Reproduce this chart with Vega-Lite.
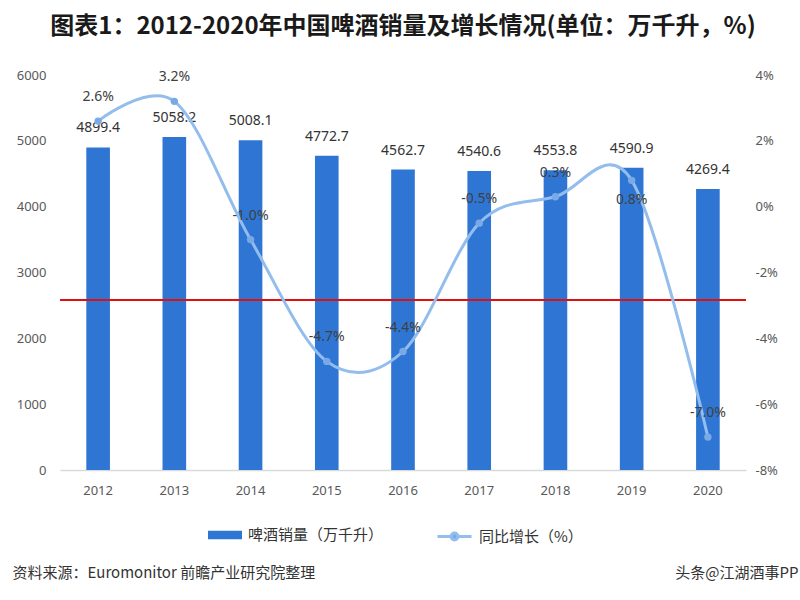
{
  "$schema": "https://vega.github.io/schema/vega-lite/v6.json",
  "autosize": {"type": "none"},
  "width": 686,
  "height": 395,
  "padding": {"left": 60, "top": 75, "right": 54, "bottom": 130},
  "background": "#ffffff",
  "title": {
    "text": "图表1：2012-2020年中国啤酒销量及增长情况(单位：万千升，%)",
    "font": "Noto Sans CJK SC",
    "fontSize": 24,
    "fontWeight": "bold",
    "color": "#1a1a1a",
    "offset": 30
  },
  "data": {
    "values": [
      {"year": "2012", "sales": 4899.4, "growth": 0.026},
      {"year": "2013", "sales": 5058.2, "growth": 0.032},
      {"year": "2014", "sales": 5008.1, "growth": -0.010},
      {"year": "2015", "sales": 4772.7, "growth": -0.047},
      {"year": "2016", "sales": 4562.7, "growth": -0.044},
      {"year": "2017", "sales": 4540.6, "growth": -0.005},
      {"year": "2018", "sales": 4553.8, "growth": 0.003},
      {"year": "2019", "sales": 4590.9, "growth": 0.008},
      {"year": "2020", "sales": 4269.4, "growth": -0.070}
    ]
  },
  "layer": [
    {
      "layer": [
        {
          "mark": {"type": "bar", "color": "#2f76d4"},
          "encoding": {
            "x": {
              "field": "year",
              "type": "ordinal",
              "scale": {"paddingInner": 0.69, "paddingOuter": 0.345},
              "axis": {
                "title": "资料来源：Euromonitor 前瞻产业研究院整理",
                "titleFont": "Noto Sans CJK SC",
                "titleFontSize": 15,
                "titleFontWeight": "normal",
                "titleColor": "#333333",
                "titleAnchor": "start",
                "titleAlign": "left",
                "titleBaseline": "middle",
                "titleX": -48,
                "titleY": 102,
                "labelAngle": 0,
                "labelFont": "Noto Sans",
                "labelFontSize": 13,
                "labelColor": "#595959",
                "labelPadding": 14,
                "ticks": false,
                "domainColor": "#d9d9d9",
                "domainWidth": 1.5,
                "grid": false
              }
            },
            "y": {
              "field": "sales",
              "type": "quantitative",
              "scale": {"domain": [0, 6000]},
              "axis": {
                "title": null,
                "values": [0, 1000, 2000, 3000, 4000, 5000, 6000],
                "format": "d",
                "labelFont": "Noto Sans",
                "labelFontSize": 13,
                "labelColor": "#595959",
                "labelPadding": 14,
                "ticks": false,
                "domain": false,
                "grid": false
              }
            },
            "fill": {
              "datum": "啤酒销量（万千升）",
              "type": "nominal",
              "scale": {"range": ["#2f76d4"]},
              "legend": {
                "title": null,
                "orient": "none",
                "legendX": 148,
                "legendY": 443,
                "symbolType": "M-1,-0.25H1V0.25H-1Z",
                "symbolSize": 1156,
                "symbolStrokeWidth": 0,
                "labelFont": "Noto Sans CJK SC",
                "labelFontSize": 15,
                "labelColor": "#333333",
                "labelOffset": 6
              }
            }
          }
        },
        {
          "mark": {"type": "text", "dy": -19, "font": "Noto Sans", "fontSize": 14, "color": "#333333"},
          "encoding": {
            "x": {"field": "year", "type": "ordinal"},
            "y": {"field": "sales", "type": "quantitative"},
            "text": {"field": "sales", "type": "quantitative", "format": ".1f"}
          }
        },
        {
          "mark": {"type": "rule", "color": "#e01010", "strokeWidth": 1.5},
          "encoding": {"y": {"datum": 2582}}
        }
      ]
    },
    {
      "encoding": {"x": {"field": "year", "type": "ordinal"}},
      "layer": [
        {
          "mark": {"type": "line", "interpolate": "cardinal", "strokeWidth": 3, "color": "#93bdec"},
          "encoding": {
            "y": {
              "field": "growth",
              "type": "quantitative",
              "scale": {"domain": [-0.08, 0.04]},
              "axis": {
                "title": "头条@江湖酒事PP",
                "titleFont": "Noto Sans CJK SC",
                "titleFontSize": 15,
                "titleFontWeight": "normal",
                "titleColor": "#333333",
                "titleAngle": 0,
                "titleAlign": "right",
                "titleBaseline": "middle",
                "titleX": 52,
                "titleY": 497,
                "orient": "right",
                "values": [-0.08, -0.06, -0.04, -0.02, 0, 0.02, 0.04],
                "format": ".0%",
                "labelFont": "Noto Sans",
                "labelFontSize": 13,
                "labelColor": "#595959",
                "labelPadding": 9,
                "ticks": false,
                "domain": false,
                "grid": false
              }
            },
            "stroke": {
              "datum": "同比增长（%）",
              "type": "nominal",
              "scale": {"range": ["#93bdec"]},
              "legend": {
                "title": null,
                "orient": "none",
                "legendX": 376,
                "legendY": 443,
                "symbolType": "M-1,0H-0.2M0.2,0H1M-0.2,0A0.2,0.2,0,1,1,0.2,0A0.2,0.2,0,1,1,-0.2,0Z",
                "symbolSize": 1156,
                "symbolStrokeWidth": 3,
                "symbolFillColor": "#7aaae6",
                "labelFont": "Noto Sans CJK SC",
                "labelFontSize": 15,
                "labelColor": "#333333",
                "labelOffset": 6
              }
            }
          }
        },
        {
          "mark": {"type": "point", "filled": true, "size": 55, "color": "#7aaae6", "opacity": 1},
          "encoding": {"y": {"field": "growth", "type": "quantitative"}}
        },
        {
          "transform": [{"filter": "datum.year != '2019'"}],
          "mark": {"type": "text", "dy": -24, "font": "Noto Sans", "fontSize": 14, "color": "#404040"},
          "encoding": {
            "y": {"field": "growth", "type": "quantitative"},
            "text": {"field": "growth", "type": "quantitative", "format": ".1%"}
          }
        },
        {
          "transform": [{"filter": "datum.year == '2019'"}],
          "mark": {"type": "text", "dy": 20, "font": "Noto Sans", "fontSize": 14, "color": "#404040"},
          "encoding": {
            "y": {"field": "growth", "type": "quantitative"},
            "text": {"field": "growth", "type": "quantitative", "format": ".1%"}
          }
        }
      ]
    }
  ],
  "resolve": {"scale": {"y": "independent"}},
  "config": {
    "view": {"stroke": null},
    "locale": {"number": {"decimal": ".", "thousands": ",", "grouping": [3], "currency": ["$", ""], "minus": "-"}}
  }
}
